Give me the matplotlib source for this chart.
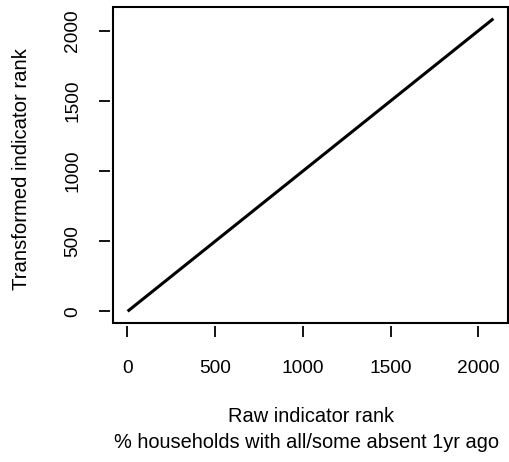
import matplotlib.pyplot as plt
import numpy as np
from matplotlib.patches import Rectangle

# ranks: transformed rank equals raw rank (end points of the line)
raw_rank = [1, 2085]
transformed_rank = [1, 2085]
x_ticks = [0, 500, 1000, 1500, 2000]
y_ticks = [0, 500, 1000, 1500, 2000]
x_title = 'Raw indicator rank'
x_subtitle = '% households with all/some absent 1yr ago'
y_title = 'Transformed indicator rank'

plt.rcParams['font.family'] = ['Liberation Sans', 'DejaVu Sans']

W, H = 509, 462
fig = plt.figure(figsize=(W / 100, H / 100), dpi=100)
ax = fig.add_axes([113 / W, 1 - 323 / H, (508 - 113) / W, (323 - 7) / H])

ax.plot(raw_rank, transformed_rank, color='black', lw=2.2, solid_capstyle='butt')

# R-style axis limits (4% extension)
n = max(raw_rank)
span = n - 1
ax.set_xlim(1 - 0.04 * span, n + 0.04 * span)
ax.set_ylim(1 - 0.04 * span, n + 0.04 * span)

# box drawn separately, ticks offset from it
ax.add_patch(Rectangle((0, 0), 1, 1, transform=ax.transAxes, fill=False,
                       lw=1.5, edgecolor='black', clip_on=False, zorder=5))
for s in ['top', 'right']:
    ax.spines[s].set_visible(False)
for s in ['bottom', 'left']:
    ax.spines[s].set_color('none')
    ax.spines[s].set_position(('outward', 2))

ax.set_xticks(x_ticks)
ax.set_yticks(y_ticks)
ax.tick_params(direction='out', length=8, width=1.3, color='black',
               labelsize=13.8, pad=16.5)
ax.tick_params(axis='y', pad=13)
for lab in ax.get_yticklabels():
    lab.set_rotation(90)
    lab.set_va('center')

fig.text(311 / W, 1 - 417 / H, x_title, ha='center', va='center', fontsize=14.4)
fig.text(307 / W, 1 - 442 / H, x_subtitle, ha='center', va='center', fontsize=14.4)
fig.text(22 / W, 1 - 169 / H, y_title, ha='center', va='center', rotation=90,
         fontsize=14.6)

fig.savefig('out.png', dpi=100)
